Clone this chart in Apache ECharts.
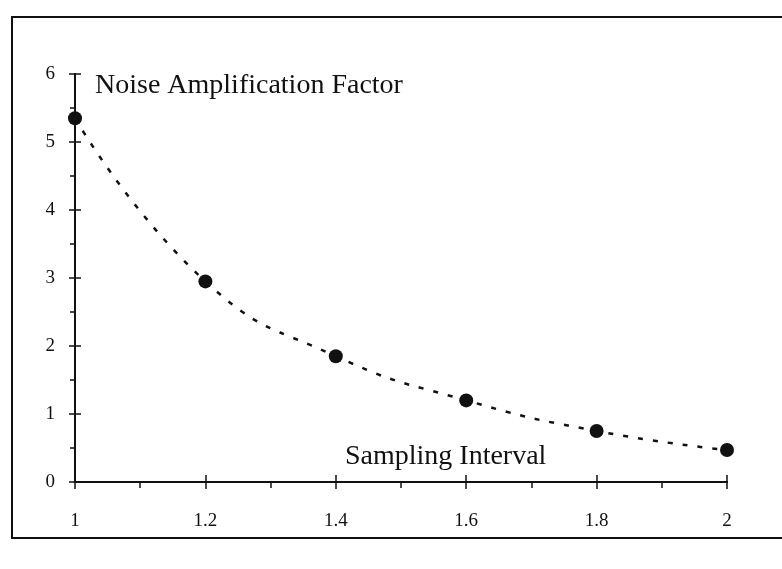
<!DOCTYPE html>
<html><head><meta charset="utf-8">
<script src="https://cdn.jsdelivr.net/npm/echarts@6/dist/echarts.min.js"></script>
<style>html,body{margin:0;padding:0;background:#fff}#c{width:782px;height:569px}</style>
</head><body><div id="c"></div>
<script>
var xValues = [1, 1.2, 1.4, 1.6, 1.8, 2];
var yValues = [5.35, 2.95, 1.85, 1.2, 0.75, 0.47];
var yTitle = 'Noise Amplification Factor';
var xTitle = 'Sampling Interval';

var pts = xValues.map(function(x, i){ return [x, yValues[i]]; });
var font = '"Liberation Serif", "DejaVu Serif", serif';
var chart = echarts.init(document.getElementById('c'));
var xBase = {type:'value', min:1, max:2, interval:0.2, position:'bottom',
  axisLine:{onZero:false, lineStyle:{color:'#111', width:2}}, splitLine:{show:false}};
var yBase = {type:'value', min:0, max:6, interval:1, position:'left',
  axisLine:{lineStyle:{color:'#111', width:2}}, splitLine:{show:false}};
chart.setOption({
  animation:false,
  grid:{left:75, right:55, top:74, bottom:87},
  graphic:[
    {type:'rect', shape:{x:12, y:17, width:780, height:521}, style:{fill:'none', stroke:'#111', lineWidth:2}, silent:true},
    {type:'text', left:95, top:72, style:{text:yTitle, font:'28px ' + font, fill:'#111'}},
    {type:'text', left:345, top:443, style:{text:xTitle, font:'28px ' + font, fill:'#111'}}
  ],
  xAxis:[
    Object.assign({}, xBase, {
      axisTick:{show:true, inside:false, length:7, lineStyle:{color:'#111', width:1.5}},
      minorTick:{show:true, splitNumber:2, length:6, lineStyle:{color:'#111', width:1.5}},
      axisLabel:{color:'#111', fontFamily:font, fontSize:19, margin:30,
        formatter:function(v){ return String(Math.round(v*10)/10); }}
    }),
    Object.assign({}, xBase, {
      axisTick:{show:true, inside:true, length:7, lineStyle:{color:'#111', width:1.5}},
      axisLabel:{show:false}
    })
  ],
  yAxis:[
    Object.assign({}, yBase, {
      axisTick:{show:true, inside:false, length:6, lineStyle:{color:'#111', width:1.5}},
      minorTick:{show:true, splitNumber:2, length:5, lineStyle:{color:'#111', width:1.5}},
      axisLabel:{color:'#111', fontFamily:font, fontSize:19, margin:20}
    }),
    Object.assign({}, yBase, {
      axisTick:{show:true, inside:true, length:6, lineStyle:{color:'#111', width:1.5}},
      axisLabel:{show:false}
    })
  ],
  series:[
    {type:'line', data:pts, smooth:0.5, showSymbol:false, symbol:'none',
      lineStyle:{color:'#111', width:2.5, type:[5,10]}, z:2},
    {type:'scatter', data:pts, symbol:'circle', symbolSize:14,
      itemStyle:{color:'#111', opacity:1}, z:3}
  ]
});
</script></body></html>
